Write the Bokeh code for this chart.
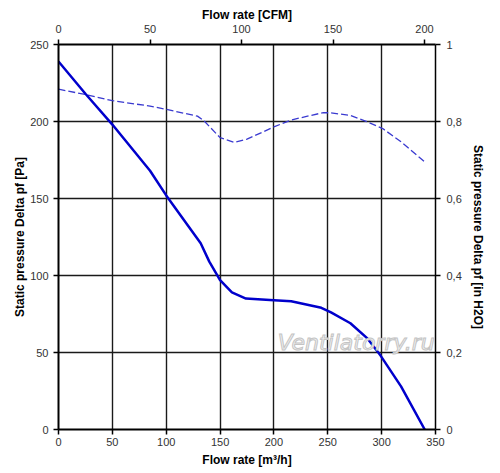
from bokeh.plotting import figure
from bokeh.models import Range1d, LinearAxis, FixedTicker, CustomJSTickFormatter, Label
from bokeh.embed import file_html
from bokeh.resources import INLINE

# ---- data ----
flow_solid = [0, 25, 50, 64, 85, 100, 132, 140, 150, 161, 174, 200, 216, 244, 253, 271, 287, 299, 318, 340]
pa_solid = [239, 218, 198, 186, 168, 152, 121, 109, 97, 89, 85, 84, 83.3, 79, 76, 69, 59, 48, 28, 0]

flow_dash = [0, 25, 50, 85, 99, 129, 135, 150, 163, 175, 200, 216, 246, 253, 271, 287, 301, 318, 340]
pa_dash = [221, 217.5, 213.5, 210, 208, 203.5, 200.5, 189.5, 186.5, 188.5, 196.5, 201, 205.8, 205.6, 204, 199.7, 195.4, 186.8, 173.8]

x_ticks = [0, 50, 100, 150, 200, 250, 300, 350]
y_ticks = [0, 50, 100, 150, 200, 250]
cfm_ticks = [0, 50, 100, 150, 200]
inh2o_ticks = [0, 0.2, 0.4, 0.6, 0.8, 1]
M3H_PER_CFM = 1.699
watermark = "Ventilatorry.ru"

FONT = "Liberation Sans"

p = figure(width=490, height=470, output_backend="svg", toolbar_location=None,
           x_range=Range1d(0, 350), y_range=Range1d(0, 250),
           min_border_left=58, min_border_right=55, min_border_top=44, min_border_bottom=41,
           x_axis_location="below", y_axis_location="left")
p.outline_line_color = None
p.background_fill_color = "white"
p.border_fill_color = "white"

p.extra_x_ranges = {"cfm": Range1d(0, 350 / M3H_PER_CFM)}
p.extra_y_ranges = {"inh2o": Range1d(0, 1)}

bottom = p.below[0]
left = p.left[0]
top = LinearAxis(x_range_name="cfm", axis_label="Flow rate [CFM]", ticker=FixedTicker(ticks=cfm_ticks))
right = LinearAxis(y_range_name="inh2o", axis_label="Static pressure Delta pf [in H2O]",
                   ticker=FixedTicker(ticks=inh2o_ticks),
                   formatter=CustomJSTickFormatter(code="return (Math.abs(tick) < 1e-9 || Math.abs(tick-1) < 1e-9) ? tick.toFixed(0) : tick.toFixed(1).replace('.', ',');"))
p.add_layout(top, "above")
p.add_layout(right, "right")

bottom.ticker = FixedTicker(ticks=x_ticks)
left.ticker = FixedTicker(ticks=y_ticks)
bottom.axis_label = "Flow rate [m³/h]"
left.axis_label = "Static pressure Delta pf [Pa]"

for ax in (bottom, left, top, right):
    ax.axis_line_color = "black"
    ax.axis_line_width = 2
    ax.major_tick_line_color = "black"
    ax.major_tick_line_width = 1.5
    ax.major_tick_out = 5
    ax.major_tick_in = 0
    ax.minor_tick_line_color = None
    ax.major_label_text_font = FONT
    ax.major_label_text_font_size = "11px"
    ax.major_label_text_color = "#333333"
    ax.axis_label_text_font = FONT
    ax.axis_label_text_font_size = "12px"
    ax.axis_label_text_font_style = "bold"
    ax.axis_label_text_color = "black"

right.axis_line_width = 1.5
left.major_label_standoff = 5
left.axis_label_standoff = 0
right.major_label_standoff = 6
right.axis_label_standoff = 6
top.major_label_standoff = 7
top.axis_label_standoff = 0
bottom.major_label_standoff = 3
bottom.axis_label_standoff = 4

p.xgrid.ticker = FixedTicker(ticks=x_ticks)
p.ygrid.ticker = FixedTicker(ticks=y_ticks)
for g in (p.xgrid[0], p.ygrid[0]):
    g.grid_line_color = "#1a1a1a"
    g.grid_line_width = 1.4

p.line(flow_dash, pa_dash, line_color="#3a3ad0", line_width=1.3, line_dash="7 3")
p.line(flow_solid, pa_solid, line_color="#0000cc", line_width=2.5)

wm = Label(x=203.5, y=56.7, text=watermark, text_font="DejaVu Sans", text_font_style="italic",
           text_font_size="22px", text_color="#f2f2f2", text_outline_color="#c4c4c4",
           text_align="left", text_baseline="alphabetic")
p.add_layout(wm)

open("out.html", "w").write(file_html(p, INLINE))
